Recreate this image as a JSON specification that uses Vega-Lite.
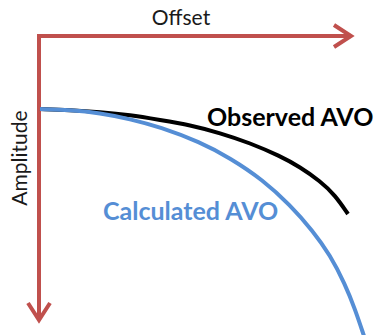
{
  "$schema": "https://vega.github.io/schema/vega-lite/v6.json",
  "width": 379,
  "height": 335,
  "padding": 0,
  "autosize": "none",
  "background": "white",
  "config": {"view": {"stroke": null}},
  "datasets": {
    "arrows": [
      {"part": "offset-shaft", "k": 0, "x": 39, "y": 36},
      {"part": "offset-shaft", "k": 1, "x": 349, "y": 36},
      {"part": "offset-head", "k": 0, "x": 334, "y": 25},
      {"part": "offset-head", "k": 1, "x": 351, "y": 36},
      {"part": "offset-head", "k": 2, "x": 334, "y": 47},
      {"part": "amp-shaft", "k": 0, "x": 39, "y": 34},
      {"part": "amp-shaft", "k": 1, "x": 39, "y": 319},
      {"part": "amp-head", "k": 0, "x": 28, "y": 303},
      {"part": "amp-head", "k": 1, "x": 39, "y": 320},
      {"part": "amp-head", "k": 2, "x": 50, "y": 303}
    ],
    "curves": [
      {"series": "Observed AVO", "x": 40, "y": 109},
      {"series": "Observed AVO", "x": 70, "y": 110},
      {"series": "Observed AVO", "x": 100, "y": 112},
      {"series": "Observed AVO", "x": 130, "y": 115},
      {"series": "Observed AVO", "x": 160, "y": 120},
      {"series": "Observed AVO", "x": 190, "y": 125},
      {"series": "Observed AVO", "x": 220, "y": 133},
      {"series": "Observed AVO", "x": 250, "y": 143},
      {"series": "Observed AVO", "x": 280, "y": 156},
      {"series": "Observed AVO", "x": 300, "y": 167},
      {"series": "Observed AVO", "x": 320, "y": 181},
      {"series": "Observed AVO", "x": 335, "y": 195},
      {"series": "Observed AVO", "x": 348, "y": 214},
      {"series": "Calculated AVO", "x": 40, "y": 109},
      {"series": "Calculated AVO", "x": 70, "y": 110},
      {"series": "Calculated AVO", "x": 100, "y": 113},
      {"series": "Calculated AVO", "x": 130, "y": 119},
      {"series": "Calculated AVO", "x": 160, "y": 127},
      {"series": "Calculated AVO", "x": 200, "y": 142},
      {"series": "Calculated AVO", "x": 230, "y": 158},
      {"series": "Calculated AVO", "x": 263, "y": 180},
      {"series": "Calculated AVO", "x": 290, "y": 205},
      {"series": "Calculated AVO", "x": 313, "y": 231},
      {"series": "Calculated AVO", "x": 330, "y": 255},
      {"series": "Calculated AVO", "x": 345, "y": 284},
      {"series": "Calculated AVO", "x": 355, "y": 309},
      {"series": "Calculated AVO", "x": 364, "y": 336}
    ],
    "axisTitles": [
      {"text": "Offset", "x": 181, "y": 25}
    ],
    "observedLabel": [
      {"text": "Observed AVO", "x": 207, "y": 126}
    ],
    "calculatedLabel": [
      {"text": "Calculated AVO", "x": 103, "y": 220}
    ],
    "amplitudeTitle": [
      {"text": "Amplitude", "x": 27, "y": 158}
    ]
  },
  "layer": [
    {
      "data": {"name": "arrows"},
      "mark": {"type": "line", "color": "#C0504D", "strokeWidth": 4, "strokeCap": "butt", "strokeJoin": "miter"},
      "encoding": {
        "x": {"field": "x", "type": "quantitative", "scale": {"domain": [0, 379], "nice": false, "zero": false}, "axis": null},
        "y": {"field": "y", "type": "quantitative", "scale": {"domain": [0, 335], "nice": false, "zero": false, "reverse": true}, "axis": null},
        "detail": {"field": "part"},
        "order": {"field": "k"}
      }
    },
    {
      "data": {"name": "curves"},
      "mark": {"type": "line", "strokeWidth": 4, "interpolate": "basis", "strokeCap": "butt"},
      "encoding": {
        "x": {"field": "x", "type": "quantitative"},
        "y": {"field": "y", "type": "quantitative"},
        "color": {"field": "series", "type": "nominal", "scale": {"domain": ["Observed AVO", "Calculated AVO"], "range": ["#000000", "#558ED5"]}, "legend": null}
      }
    },
    {
      "data": {"name": "axisTitles"},
      "mark": {"type": "text", "font": "Lato", "fontSize": 21, "align": "center", "baseline": "alphabetic", "color": "#1a1a1a"},
      "encoding": {
        "x": {"field": "x", "type": "quantitative"},
        "y": {"field": "y", "type": "quantitative"},
        "text": {"field": "text"}
      }
    },
    {
      "data": {"name": "observedLabel"},
      "mark": {"type": "text", "font": "Lato", "fontSize": 25, "fontWeight": "bold", "align": "left", "baseline": "alphabetic", "color": "#000000"},
      "encoding": {
        "x": {"field": "x", "type": "quantitative"},
        "y": {"field": "y", "type": "quantitative"},
        "text": {"field": "text"}
      }
    },
    {
      "data": {"name": "calculatedLabel"},
      "mark": {"type": "text", "font": "Lato", "fontSize": 25, "fontWeight": "bold", "align": "left", "baseline": "alphabetic", "color": "#558ED5"},
      "encoding": {
        "x": {"field": "x", "type": "quantitative"},
        "y": {"field": "y", "type": "quantitative"},
        "text": {"field": "text"}
      }
    },
    {
      "data": {"name": "amplitudeTitle"},
      "mark": {"type": "text", "font": "Lato", "fontSize": 21, "angle": 270, "align": "center", "baseline": "alphabetic", "color": "#1a1a1a"},
      "encoding": {
        "x": {"field": "x", "type": "quantitative"},
        "y": {"field": "y", "type": "quantitative"},
        "text": {"field": "text"}
      }
    }
  ]
}
